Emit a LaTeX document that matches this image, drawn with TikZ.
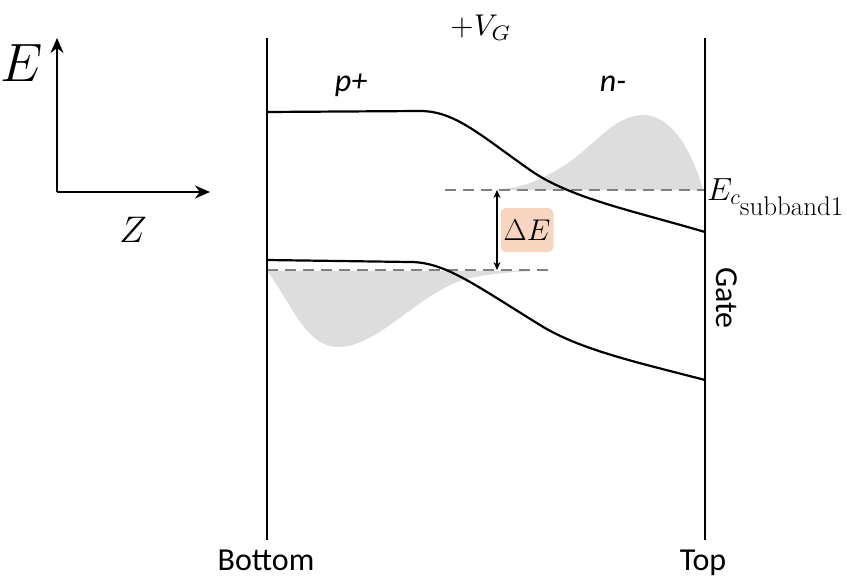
\RequirePackage{fix-cm}
\documentclass[tikz,border=0pt]{standalone}
\usepackage{fontspec}
\usepackage{amsmath}
\newfontfamily\carl{Carlito}
\usetikzlibrary{arrows.meta}
\definecolor{shadegray}{RGB}{221,221,221}
\definecolor{dashgray}{RGB}{128,128,128}
\definecolor{peach}{RGB}{248,213,192}
\begin{document}
\begin{tikzpicture}[x=1pt,y=-1pt,
  band/.style={line width=2.2pt, line join=round},
  wall/.style={line width=1.6pt},
  level/.style={dashgray, line width=2.6pt, dash pattern=on 11pt off 7pt},
  blob/.style={fill=shadegray, draw=none},
  lbl/.style={font=\carl\fontsize{32}{36}\selectfont, inner sep=0pt},
  ilbl/.style={font=\carl\itshape\fontsize{32}{36}\selectfont, inner sep=0pt},
  axis/.style={line width=2.2pt, -{Stealth[length=15pt,width=13pt]}},
  gap/.style={line width=1.2pt, {Stealth[length=8pt,width=7pt]}-{Stealth[length=8pt,width=7pt]}},
]
\useasboundingbox (0,0) rectangle (847,578);

% shaded wavefunctions
\fill[blob] (267,271) .. controls (290,300) and (305,347) .. (338,347)
  .. controls (380,347) and (420,290) .. (470,278)
  .. controls (495,273) and (520,271) .. (545,271) -- cycle;
\fill[blob] (480,190) .. controls (520,190) and (538,182) .. (565,165)
  .. controls (595,145) and (615,115) .. (643,115)
  .. controls (675,115) and (695,160) .. (703,190) -- cycle;

% dashed levels
\coordinate (u1) at (445,190); \coordinate (u2) at (705,190);
\coordinate (l1) at (267,270); \coordinate (l2) at (553,270);
\draw[level] (u1) -- (u2);
\draw[level] (l1) -- (l2);

% walls
\coordinate (bt) at (267,38); \coordinate (bb) at (267,540);
\coordinate (tt) at (705,38); \coordinate (tb) at (705,540);
\draw[wall] (bt) -- (bb);
\draw[wall] (tt) -- (tb);

% bands
\draw[band] (267,112) -- (420,111) .. controls (455,111) and (480,135) .. (530,170)
  .. controls (570,198) and (630,210) .. (705,232);
\draw[band] (267,260) -- (410,262) .. controls (445,262) and (475,285) .. (540,325)
  .. controls (580,350) and (640,363) .. (705,380);

% gap arrow
\coordinate (g1) at (497,190); \coordinate (g2) at (497,270);
\draw[gap] (g1) -- (g2);
\node[fill=peach, rounded corners=6pt, minimum width=53pt, minimum height=44pt, inner sep=0pt] (dE) at (527,230) {\fontsize{30}{30}\selectfont$\Delta E$};

% axes
\coordinate (O) at (57,192); \coordinate (Ey) at (57,38); \coordinate (Zx) at (210,192);
\draw[axis] (O) -- (Ey);
\draw[axis] (O) -- (Zx);
\node[inner sep=0pt] (Elab) at (22,63) {\fontsize{54}{54}\selectfont$E$};
\node[inner sep=0pt] (Zlab) at (133,230) {\fontsize{37}{37}\selectfont$Z$};

% labels
\node[inner sep=0pt, anchor=base, scale=3.0] (vg) at (481,36) {$+V_{G}$};
\node[ilbl, anchor=base] (pp) at (351,92) {p+};
\node[ilbl, anchor=base] (nm) at (613,92) {n-};
\node[inner sep=0pt, anchor=base west] (ec) at (707,200) {\fontsize{32}{32}\selectfont$E_{c_{\text{\fontsize{27}{27}\selectfont subband1}}}$};
\node[lbl, rotate=-90] (gate) at (727,298) {Gate};
\node[lbl, anchor=base] (bot) at (266,570) {Bottom};
\node[lbl, anchor=base] (top) at (703,570) {Top};
\end{tikzpicture}
\end{document}
